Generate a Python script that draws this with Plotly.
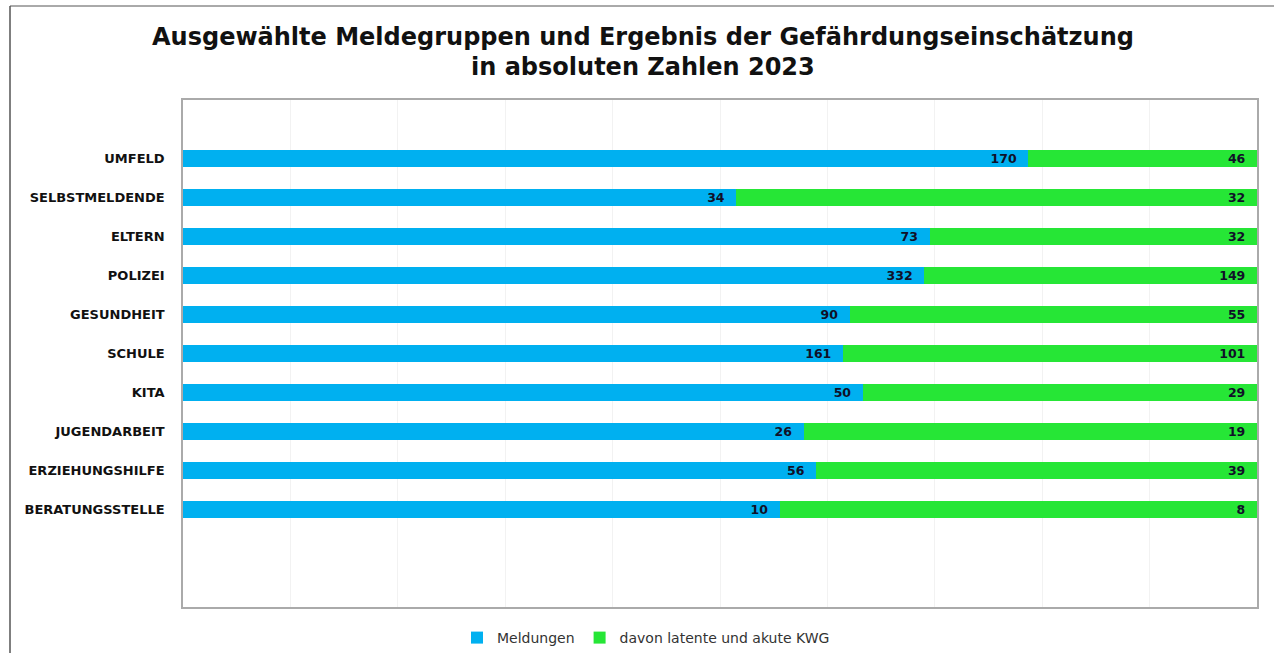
import plotly.graph_objects as go

categories = ["UMFELD", "SELBSTMELDENDE", "ELTERN", "POLIZEI", "GESUNDHEIT",
              "SCHULE", "KITA", "JUGENDARBEIT", "ERZIEHUNGSHILFE", "BERATUNGSSTELLE"]
meldungen = [170, 34, 73, 332, 90, 161, 50, 26, 56, 10]
kwg = [46, 32, 32, 149, 55, 101, 29, 19, 39, 8]

W, H = 1274, 653
L, R, T, B = 183, 1257, 100, 607

label_font = dict(family="DejaVu Sans", size=12.5, color="#101028", weight="bold")
pad = "\u00a0\u00a0"

fig = go.Figure()
fig.add_trace(go.Bar(
    y=categories, x=meldungen, orientation="h", name="Meldungen",
    marker=dict(color="#00B0F0", line=dict(width=0)),
    text=[str(v) + pad for v in meldungen], textposition="inside", insidetextanchor="end",
    textangle=0, constraintext="none", textfont=label_font,
    width=0.42,
))
fig.add_trace(go.Bar(
    y=categories, x=kwg, orientation="h", name="davon latente und akute KWG",
    marker=dict(color="#26E636", line=dict(width=0)),
    text=[str(v) + pad for v in kwg], textposition="inside", insidetextanchor="end",
    textangle=0, constraintext="none", textfont=label_font,
    width=0.42,
))

def px_x(p):
    return (p - L) / (R - L)

def px_y(p):
    return (B - p) / (B - T)

fig.update_layout(
    width=W, height=H,
    barmode="stack", barnorm="percent",
    margin=dict(l=L, r=W - R, t=T, b=H - B, autoexpand=False),
    paper_bgcolor="white", plot_bgcolor="white",
    xaxis=dict(range=[0, 100], showticklabels=False, showgrid=True,
               gridcolor="#f2f2f2", dtick=10, zeroline=False, automargin=False,
               showline=True, linecolor="#aaaaaa", linewidth=1.5, mirror=True, ticks=""),
    yaxis=dict(type="category", range=[11.5, -1.5], showgrid=False, automargin=False,
               tickfont=dict(family="DejaVu Sans", size=13, color="#111111", weight="bold"),
               showline=True, linecolor="#aaaaaa", linewidth=1.5, mirror=True,
               ticks="", ticklabelstandoff=14),
    showlegend=True,
    legend=dict(orientation="h", x=px_x(646), xanchor="center",
                y=px_y(638), yanchor="middle",
                font=dict(family="DejaVu Sans", size=14, color="#333333"),
                itemwidth=30, traceorder="normal"),
    annotations=[
        dict(text="Ausgewählte Meldegruppen und Ergebnis der Gefährdungseinschätzung",
             xref="paper", yref="paper", x=px_x(643), y=px_y(37),
             xanchor="center", yanchor="middle", showarrow=False,
             font=dict(family="DejaVu Sans", size=24, color="#111111", weight="bold")),
        dict(text="in absoluten Zahlen 2023",
             xref="paper", yref="paper", x=px_x(643), y=px_y(67),
             xanchor="center", yanchor="middle", showarrow=False,
             font=dict(family="DejaVu Sans", size=24, color="#111111", weight="bold")),
    ],
    shapes=[
        dict(type="line", xref="paper", yref="paper",
             x0=px_x(10), x1=px_x(10), y0=px_y(6), y1=px_y(653),
             line=dict(color="#555555", width=1.5)),
        dict(type="line", xref="paper", yref="paper",
             x0=px_x(10), x1=px_x(1274), y0=px_y(6), y1=px_y(6),
             line=dict(color="#555555", width=1)),
    ],
)

fig.write_html("out.html", config={"displayModeBar": False},
               post_script="document.body.style.margin='0';document.body.style.overflow='hidden';")
